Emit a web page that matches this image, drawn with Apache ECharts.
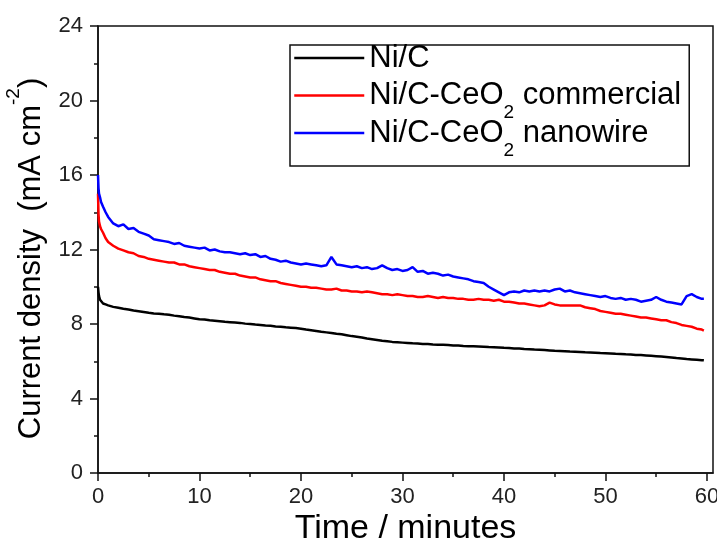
<!DOCTYPE html>
<html>
<head>
<meta charset="utf-8">
<script src="https://cdn.jsdelivr.net/npm/echarts@6/dist/echarts.min.js"></script>
<style>
  html, body { margin: 0; padding: 0; background: #fff; }
  #chart { width: 717px; height: 541px; }
</style>
</head>
<body>
<div id="chart"></div>
<script>
// time in minutes, shared by all three curves
var timeMin = [
  0, 0.05, 0.1, 0.2, 0.3, 0.5, 0.75, 1, 1.5, 2,
  2.5, 3, 3.5, 4, 4.5, 5, 5.5, 6, 6.5, 7,
  7.5, 8, 8.5, 9, 9.5, 10, 10.5, 11, 11.5, 12,
  12.5, 13, 13.5, 14, 14.5, 15, 15.5, 16, 16.5, 17,
  17.5, 18, 18.5, 19, 19.5, 20, 20.5, 21, 21.5, 22,
  22.5, 23, 23.5, 24, 24.5, 25, 25.5, 26, 26.5, 27,
  27.5, 28, 28.5, 29, 29.5, 30, 30.5, 31, 31.5, 32,
  32.5, 33, 33.5, 34, 34.5, 35, 35.5, 36, 36.5, 37,
  37.5, 38, 38.5, 39, 39.5, 40, 40.5, 41, 41.5, 42,
  42.5, 43, 43.5, 44, 44.5, 45, 45.5, 46, 46.5, 47,
  47.5, 48, 48.5, 49, 49.5, 50, 50.5, 51, 51.5, 52,
  52.5, 53, 53.5, 54, 54.5, 55, 55.5, 56, 56.5, 57,
  57.5, 58, 58.5, 59, 59.5, 59.7
];

// current density, mA cm-2
var niC = [
  10.0, 9.7, 9.5, 9.3, 9.2, 9.1, 9.05, 9.0, 8.92, 8.87,
  8.82, 8.78, 8.72, 8.68, 8.64, 8.6, 8.57, 8.55, 8.52, 8.5,
  8.45, 8.42, 8.38, 8.35, 8.3, 8.25, 8.24, 8.2, 8.18, 8.15,
  8.12, 8.1, 8.08, 8.06, 8.02, 8.0, 7.97, 7.95, 7.92, 7.9,
  7.87, 7.85, 7.82, 7.8, 7.78, 7.75, 7.7, 7.66, 7.62, 7.58,
  7.55, 7.52, 7.48, 7.45, 7.4, 7.35, 7.32, 7.28, 7.22, 7.18,
  7.14, 7.1, 7.07, 7.04, 7.02, 7.0, 6.98, 6.96, 6.95, 6.93,
  6.92, 6.9, 6.89, 6.88, 6.87, 6.85, 6.84, 6.82, 6.81, 6.8,
  6.79, 6.78, 6.76, 6.75, 6.74, 6.72, 6.71, 6.69, 6.68, 6.66,
  6.65, 6.63, 6.62, 6.6, 6.58, 6.56, 6.55, 6.54, 6.52, 6.51,
  6.5, 6.48, 6.47, 6.46, 6.44, 6.43, 6.42, 6.4, 6.39, 6.37,
  6.36, 6.34, 6.33, 6.31, 6.29, 6.27, 6.25, 6.23, 6.2, 6.17,
  6.15, 6.12, 6.1, 6.08, 6.06, 6.05
];
var niCCeO2Commercial = [
  15.0, 13.9, 13.5, 13.25, 13.1, 12.9, 12.6, 12.4, 12.2, 12.05,
  11.95, 11.85, 11.8, 11.65, 11.6, 11.5, 11.45, 11.4, 11.35, 11.3,
  11.3, 11.2, 11.2, 11.1, 11.05, 11.0, 10.95, 10.9, 10.9, 10.8,
  10.75, 10.7, 10.7, 10.6, 10.55, 10.5, 10.5, 10.4, 10.35, 10.3,
  10.3, 10.2, 10.15, 10.1, 10.05, 10.0, 10.0, 9.95, 9.95, 9.9,
  9.85, 9.85, 9.9, 9.8, 9.8, 9.75, 9.75, 9.7, 9.75, 9.7,
  9.65, 9.6, 9.6, 9.55, 9.6, 9.55, 9.5, 9.5, 9.45, 9.45,
  9.5, 9.45, 9.4, 9.45, 9.4, 9.4, 9.35, 9.35, 9.3, 9.3,
  9.35, 9.3, 9.3, 9.25, 9.3, 9.2, 9.2, 9.15, 9.1, 9.1,
  9.05, 9.0, 8.95, 9.0, 9.15, 9.05, 9.0, 9.0, 9.0, 9.0,
  9.0, 8.9, 8.85, 8.8, 8.7, 8.65, 8.6, 8.55, 8.55, 8.5,
  8.45, 8.4, 8.35, 8.35, 8.3, 8.25, 8.2, 8.2, 8.1, 8.05,
  7.95, 7.9, 7.85, 7.75, 7.7, 7.65
];
var niCCeO2Nanowire = [
  16.0, 15.3, 15.0, 14.8, 14.55, 14.3, 14.0, 13.75, 13.4, 13.25,
  13.35, 13.1, 13.15, 12.95, 12.85, 12.75, 12.55, 12.5, 12.45, 12.4,
  12.3, 12.35, 12.2, 12.15, 12.1, 12.05, 12.1, 11.95, 12.0, 11.9,
  11.85, 11.85, 11.8, 11.75, 11.8, 11.7, 11.75, 11.6, 11.65, 11.5,
  11.45, 11.35, 11.4, 11.3, 11.25, 11.2, 11.25, 11.2, 11.15, 11.1,
  11.15, 11.6, 11.2, 11.15, 11.1, 11.05, 11.1, 11.0, 11.05, 10.95,
  11.0, 11.15, 11.0, 10.9, 10.95, 10.85, 10.9, 11.05, 10.8, 10.85,
  10.7, 10.75, 10.7, 10.6, 10.65, 10.55, 10.5, 10.45, 10.4, 10.3,
  10.25, 10.2, 10.0, 9.85, 9.7, 9.55, 9.7, 9.75, 9.7, 9.8,
  9.75, 9.8, 9.75, 9.8, 9.75, 9.85, 9.9, 9.75, 9.8, 9.7,
  9.65, 9.6, 9.55, 9.5, 9.45, 9.5, 9.4, 9.35, 9.4, 9.3,
  9.35, 9.3, 9.2, 9.25, 9.3, 9.45, 9.3, 9.2, 9.15, 9.1,
  9.05, 9.5, 9.6, 9.45, 9.35, 9.35
];

var seriesNames = ['Ni/C', 'Ni/C-CeO2 commercial', 'Ni/C-CeO2 nanowire'];
var seriesColors = ['#000000', '#ff0000', '#0000ff'];
var xMajorTicks = [0, 10, 20, 30, 40, 50, 60];
var xMinorTicks = [5, 15, 25, 35, 45, 55];

function pairs(vals) {
  return vals.map(function (v, i) { return [timeMin[i], v]; });
}

var font = 'Liberation Sans, Arial, sans-serif';

var chart = echarts.init(document.getElementById('chart'));
chart.setOption({
  backgroundColor: '#fff',
  animation: false,
  grid: {
    left: 98, top: 26, right: 4, bottom: 68,
    outerBoundsMode: 'none',
    containLabel: false,
    show: true, borderColor: '#111', borderWidth: 1.5
  },
  legend: {
    data: seriesNames,
    orient: 'vertical',
    left: 290, top: 45,
    itemWidth: 70, itemHeight: 62, itemGap: -24.5,
    padding: [-18, 8, 2, 3],
    borderColor: '#111', borderWidth: 1.5,
    selectedMode: false,
    itemStyle: { opacity: 0 },
    lineStyle: { width: 2.5 },
    formatter: function (name) {
      return name.replace('CeO2', 'CeO{s|2}');
    },
    textStyle: {
      fontFamily: font, fontSize: 31, lineHeight: 62, color: '#000',
      rich: {
        s: { fontFamily: font, fontSize: 19, color: '#000', padding: [35, 0, 0, 0] }
      }
    }
  },
  xAxis: [{
    type: 'value',
    min: 0, max: 60.6,
    name: 'Time / minutes',
    nameLocation: 'middle',
    nameGap: 39,
    nameMoveOverlap: false,
    nameTextStyle: { fontFamily: font, fontSize: 34, color: '#000' },
    axisLine: { show: true, lineStyle: { color: '#111', width: 1.5 } },
    axisTick: { show: true, inside: false, length: 8, customValues: xMajorTicks, lineStyle: { color: '#111', width: 1.5 } },
    axisLabel: { customValues: xMajorTicks, margin: 13, fontFamily: font, fontSize: 22, color: '#222' },
    splitLine: { show: false }
  }, {
    type: 'value',
    min: 0, max: 60.6,
    position: 'bottom',
    axisLine: { show: false },
    axisTick: { show: true, inside: false, length: 4, customValues: xMinorTicks, lineStyle: { color: '#111', width: 1.5 } },
    axisLabel: { show: false },
    splitLine: { show: false }
  }],
  yAxis: {
    type: 'value',
    min: 0, max: 24, interval: 4,
    name: 'Current density  (mA cm{p|-2})',
    nameLocation: 'middle',
    nameGap: 40,
    nameMoveOverlap: false,
    nameTextStyle: {
      fontFamily: font, fontSize: 31, lineHeight: 54, color: '#000',
      padding: [0, 18, 0, 0],
      rich: {
        p: { fontFamily: font, fontSize: 19, color: '#000', padding: [0, 0, 34, 0] }
      }
    },
    axisLine: { show: true, lineStyle: { color: '#111', width: 1.5 } },
    axisTick: { show: true, inside: false, length: 8, lineStyle: { color: '#111', width: 1.5 } },
    minorTick: { show: true, splitNumber: 2, length: 4, lineStyle: { color: '#111', width: 1.5 } },
    axisLabel: { margin: 15, fontFamily: font, fontSize: 22, color: '#222' },
    splitLine: { show: false }
  },
  series: [niC, niCCeO2Commercial, niCCeO2Nanowire].map(function (vals, k) {
    return {
      name: seriesNames[k],
      type: 'line',
      xAxisIndex: 0,
      data: pairs(vals),
      symbol: 'none',
      color: seriesColors[k],
      lineStyle: { color: seriesColors[k], width: 2.5 }
    };
  })
});
</script>
</body>
</html>
